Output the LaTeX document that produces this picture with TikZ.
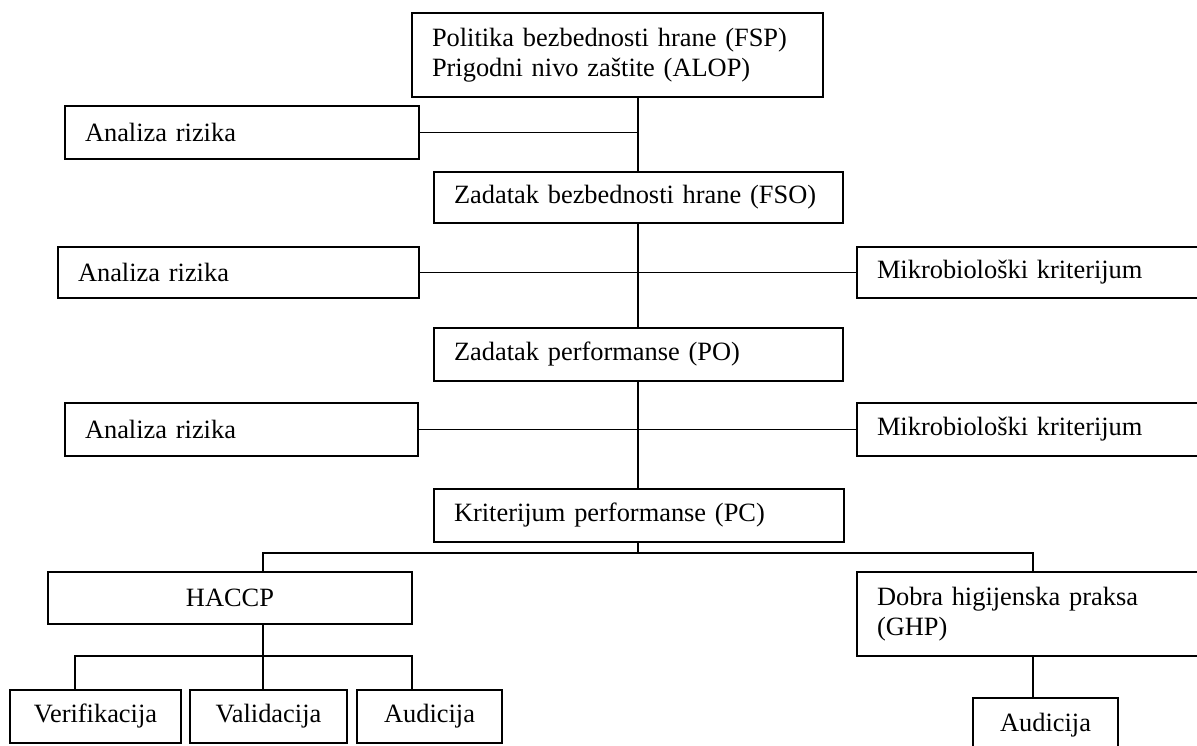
\documentclass[tikz,border=0pt]{standalone}
\usepackage{fontspec}
\setmainfont{Liberation Serif}
\begin{document}
\begin{tikzpicture}[x=1pt,y=-1pt,
  box/.style={draw,line width=1.7pt,rectangle,inner xsep=20pt,inner ysep=0pt,
              font=\fontsize{26.4}{30}\selectfont},
  link/.style={line width=1.7pt}]
\useasboundingbox (0,0) rectangle (1197,745);
\clip (0,0) rectangle (1197,745);
% box placement from corner coordinates: name, x1, y1, x2, y2, alignment, text
\newcommand{\bx}[7]{%
  \node[box,minimum width=#4-#2,minimum height=#5-#3,text width=#4-#2-40,align=#6]
    (#1) at ({(#2+#4)/2},{(#3+#5)/2}) {#7};}
\bx{fsp}{412}{13}{823}{97}{left}{Politika bezbednosti hrane (FSP)\\Prigodni nivo zaštite (ALOP)}
\bx{ar1}{65}{106}{419}{159}{left}{Analiza rizika}
\bx{fso}{434}{172}{843}{223}{left}{Zadatak bezbednosti hrane (FSO)}
\bx{ar2}{58}{247}{419}{298}{left}{Analiza rizika}
\bx{mk1}{857}{247}{1210}{298}{left}{Mikrobiološki kriterijum}
\bx{po}{434}{328}{843}{381}{left}{Zadatak performanse (PO)}
\bx{ar3}{65}{403}{418}{456}{left}{Analiza rizika}
\bx{mk2}{857}{403}{1210}{456}{left}{Mikrobiološki kriterijum}
\bx{pc}{434}{489}{844}{542}{left}{Kriterijum performanse (PC)}
\bx{haccp}{48}{572}{412}{624}{center}{HACCP}
\bx{ghp}{857}{572}{1210}{656}{left}{Dobra higijenska praksa\\(GHP)}
\node[box,inner xsep=0pt,minimum width=171,minimum height=53] (ver) at (95.5,716.5) {Verifikacija};
\node[box,inner xsep=0pt,minimum width=157,minimum height=53] (val) at (268.5,716.5) {Validacija};
\node[box,inner xsep=0pt,minimum width=145,minimum height=53] (aud1) at (429.5,716.5) {Audicija};
\node[box,inner xsep=0pt,minimum width=145,minimum height=54] (aud2) at (1045.5,725) {Audicija};
% reference coordinates for the connector lines
\coordinate (spine) at (638,0);
\coordinate (busL) at (263,553);
\coordinate (busR) at (1033,553);
\coordinate (hv1) at (75,656);
\coordinate (hv3) at (412,656);
% main vertical spine
\draw[link] (fsp.south -| spine) -- (fso.north -| spine);
\draw[link] (fso.south -| spine) -- (po.north -| spine);
\draw[link] (po.south -| spine) -- (pc.north -| spine);
\draw[link] (pc.south -| spine) -- (spine |- busL);
% side branches
\draw[link] (ar1.east) -- (ar1.east -| spine);
\draw[link] (ar2.east) -- (ar2.east -| mk1.west);
\draw[link] (ar3.east) -- (ar3.east -| mk2.west);
% lower bus
\draw[link] (haccp.north -| busL) -- (busL) -- (busR) -- (ghp.north -| busR);
\draw[link] (haccp.south -| busL) -- (val.north -| busL);
\draw[link] (ver.north -| hv1) -- (hv1) -- (hv3) -- (aud1.north -| hv3);
\draw[link] (ghp.south -| busR) -- (aud2.north -| busR);
\end{tikzpicture}
\end{document}
